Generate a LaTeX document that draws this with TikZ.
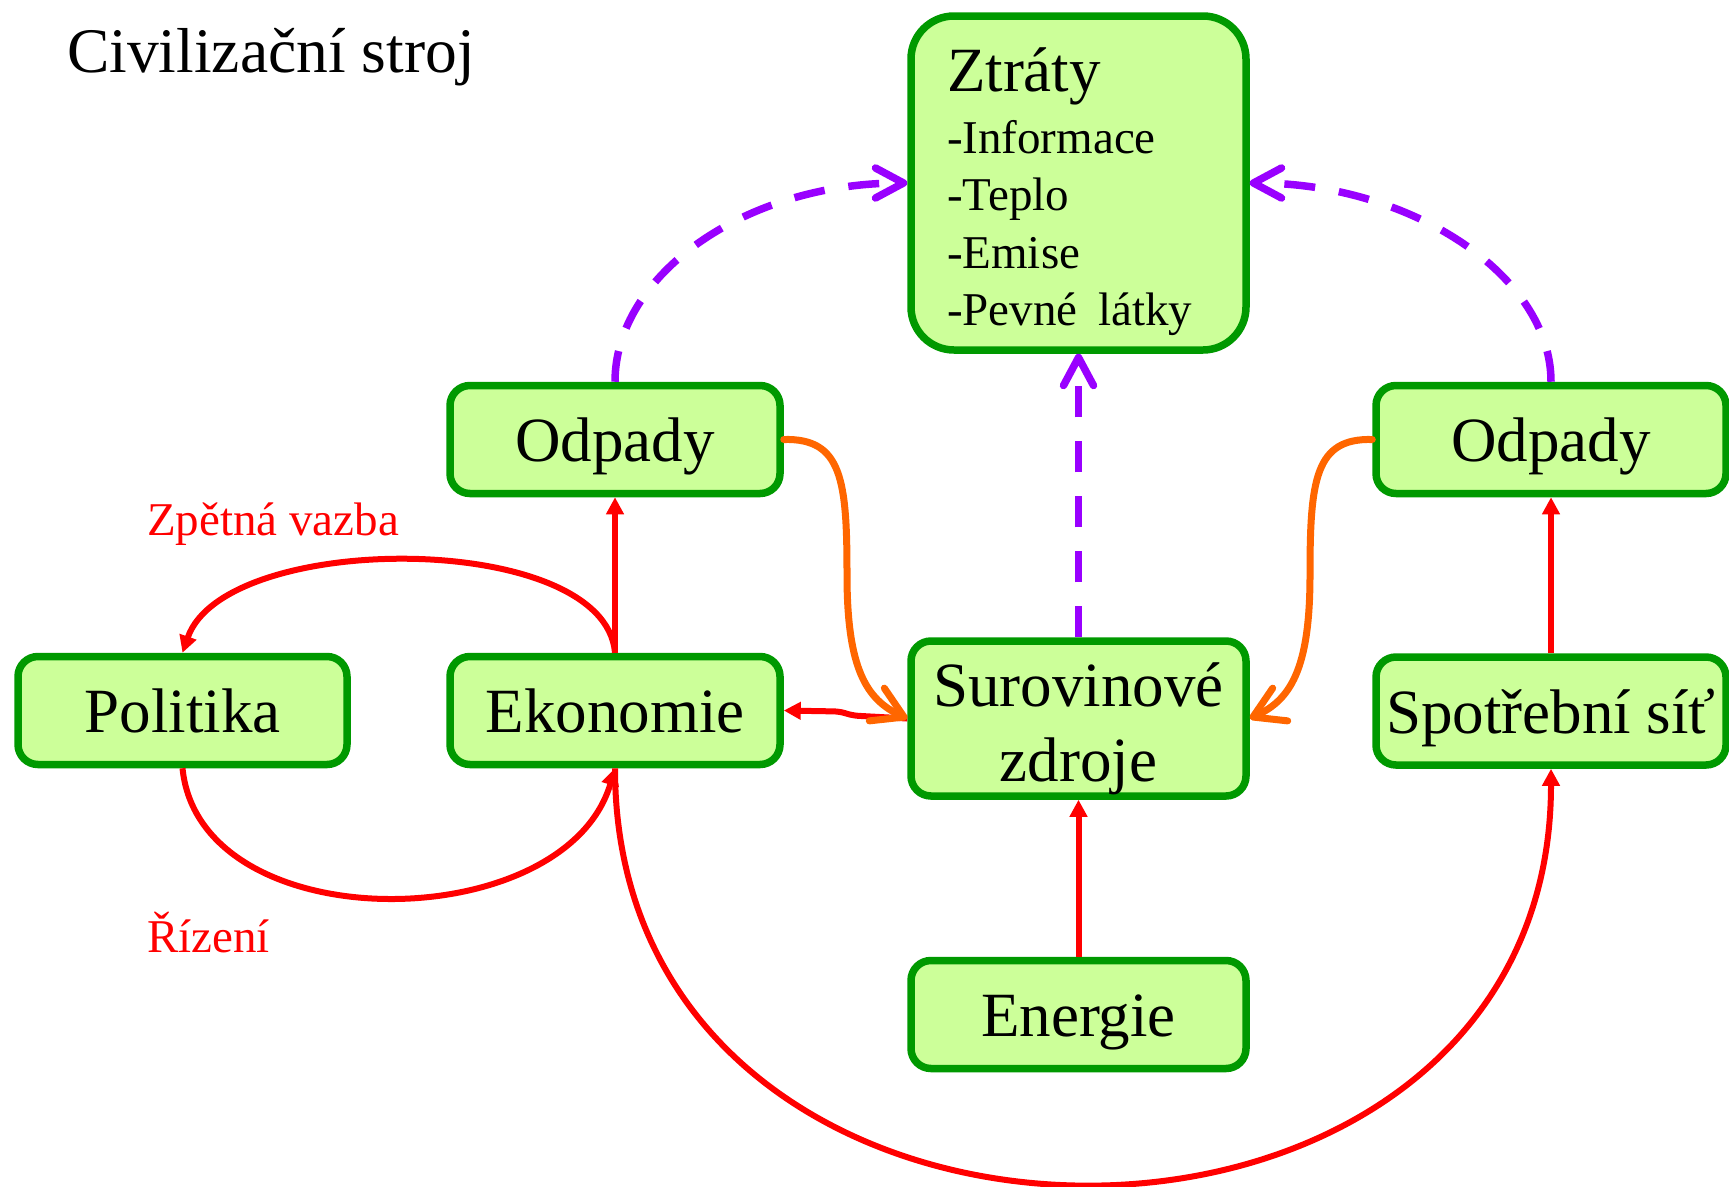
\documentclass[tikz,border=0pt]{standalone}
\usepackage{fontspec}
\setmainfont{Liberation Serif}
\usetikzlibrary{arrows.meta}
\definecolor{bgreen}{RGB}{0,153,0}
\definecolor{bfill}{RGB}{204,255,153}
\definecolor{cred}{RGB}{255,0,0}
\definecolor{corange}{RGB}{255,102,0}
\definecolor{cpurple}{RGB}{153,0,255}
\begin{document}
\begin{tikzpicture}[x=1pt,y=-1pt,
  box/.style={draw=bgreen, fill=bfill, line width=7.5pt, rounded corners=20pt,
    minimum width=330pt, minimum height=108pt, inner sep=0pt,
    font=\fontsize{63}{75}\selectfont},
  oneline/.style={text height=44pt, text depth=0pt},
  redarr/.style={draw=cred, line width=6pt, -{Triangle[length=17pt,width=17pt]}},
  orarr/.style={draw=corange, line width=7pt, line cap=round,
    -{Straight Barb[length=30pt,width=36pt,line cap=round,line join=round]}},
  purarr/.style={draw=cpurple, line width=7.5pt, dash pattern=on 31pt off 24pt,
    -{Straight Barb[length=28pt,width=30pt,line cap=round,line join=round]}},
  lbl/.style={text=cred, font=\fontsize{47}{56}\selectfont, inner sep=0pt, anchor=base west}
]
\useasboundingbox (0,0) rectangle (1729,1186);

% title
\node[anchor=base west, inner sep=0pt, font=\fontsize{63.5}{70}\selectfont] (title) at (67,72) {Civilizační stroj};

% boxes
\node[box, minimum width=335pt, minimum height=334pt, rounded corners=43pt,
  text width=263pt, align=left, inner xsep=36pt] (ztraty) at (1078.5,183)
  {{\fontsize{63}{72}\selectfont\rule{0pt}{61pt}Ztráty\par}\vspace{4.5pt}%
   {\fontsize{47}{57.5}\selectfont -Informace\par -Teplo\par -Emise\par -Pevné~látky\par}};
\node[box, oneline] (odl) at (615,439.5) {Odpady};
\node[box, oneline, minimum width=350pt] (odr) at (1551,439.5) {Odpady};
\node[box, oneline, minimum width=329pt] (pol) at (182.5,710.5) {Politika};
\node[box, oneline] (eko) at (615,710.5) {Ekonomie};
\node[box, minimum width=335pt, minimum height=155pt, align=center] (sur) at (1078.5,718.5)
  {\rule{0pt}{64pt}Surovinové\\zdroje};
\node[box, oneline, minimum width=350pt] (spo) at (1551,711) {Spotřební síť};
\node[box, oneline, minimum width=335pt] (ene) at (1078.5,1014.5) {Energie};

% labels
\node[lbl] (zv) at (147,535) {Zpětná vazba};
\node[lbl] (riz) at (147,952) {Řízení};

% red connectors
\draw[redarr] (eko.north) -- (odl.south);
\draw[redarr] (spo.north) -- (odr.south);
\draw[redarr] (ene.north) -- (sur.south);
\draw[redarr, rounded corners=6pt] (sur.west) -- ++(-55,-3) -- ++(-12,-4) -- (eko.east);
\draw[redarr] (eko.north) .. controls (605,530) and (225,530) .. (pol.north);
\draw[redarr] (pol.south) .. controls (200,942) and (565,938) .. (eko.south);
\draw[redarr] (eko.south) .. controls (615,1322) and (1551,1322) .. (spo.south);

% orange connectors
\draw[orarr] (odl.east) .. controls (842,438) and (847,480) .. (847,575)
  .. controls (847,670) and (867,700) .. (sur.west);
\draw[orarr] (odr.west) .. controls (1315,438) and (1310,480) .. (1310,575)
  .. controls (1310,670) and (1290,700) .. (sur.east);

% purple dashed connectors
\draw[purarr] (odl.north) .. controls (615,275) and (745,183) .. (ztraty.west);
\draw[purarr] (odr.north) .. controls (1551,275) and (1410,183) .. (ztraty.east);
\draw[purarr] (sur.north) -- (ztraty.south);
\end{tikzpicture}
\end{document}
